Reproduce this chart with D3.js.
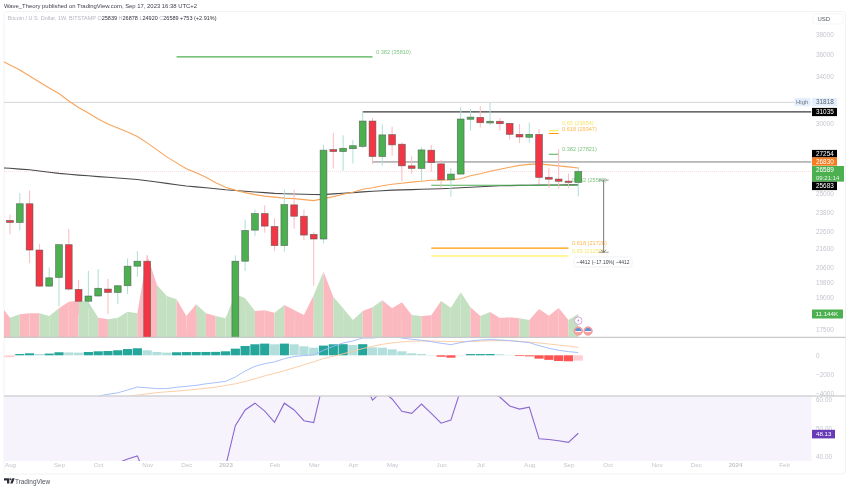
<!DOCTYPE html>
<html>
<head>
<meta charset="utf-8">
<script src="https://cdn.jsdelivr.net/npm/d3@7"></script>
<style>
html,body{margin:0;padding:0;background:#fff;}
svg{display:block;font-family:"Liberation Sans",Arial,sans-serif;filter:blur(0.3px);}
</style>
</head>
<body>
<svg id="chart" width="850" height="489"></svg>
<script>
// weekly candles, first entry is the week cut off by the left edge (2022-07-25)
var firstWeek = "2022-07-25";
var opens = [22580,23410,23290,24450,21680,19740,20190,21985,19575,18980,19240,19590,19420,19760,20790,21060,16300,16280,16430,17100,16960,16780,16830,16620,16950,21060,22830,23835,23050,21930,24380,23670,22580,22310,28150,28000,28210,28380,30310,27640,29260,28540,26980,26800,28100,27120,26020,26410,30450,30600,30160,30290,30130,29280,29060,29280,26190,26070,25930,25839];
var highs = [24200,23775,25140,25300,22040,20720,21985,22910,20060,20540,20630,20110,19780,21215,21620,21400,16900,16750,17320,17620,18370,16950,16950,17000,21380,23470,24085,24350,23550,25360,25360,24085,22720,28490,29410,29210,28860,31110,30550,30050,29870,28680,27660,28320,28490,27400,26820,31450,31270,31520,31818,30550,30150,30080,30200,29690,26820,28170,26430,26878];
var lows = [22400,22580,22810,20950,19700,19700,18730,19500,18330,18650,19200,18365,18845,19340,20225,15600,15500,15500,16000,16600,16300,16400,16300,16500,16900,20540,22480,22680,21630,21580,22910,22260,19760,22060,26780,26640,27140,28250,27100,26990,27700,25920,26420,25920,26570,25450,24900,26390,29560,29790,30000,29560,28890,28620,28650,25730,25470,25420,25470,24920];
var closes = [23400,23290,24450,21680,19740,20170,21985,19590,18980,19240,19630,19420,19760,20790,21060,16300,16280,16430,17100,16960,16780,16830,16620,16950,21060,22810,23835,23070,21930,24395,23670,22540,22310,28100,28000,28240,28430,30310,27640,29240,28490,26980,26800,28120,27210,26020,26410,30470,30620,30180,30290,30100,29280,29080,29280,26180,26060,25920,25839,26589];
var volumes = [15500,9350,11000,11480,11480,10170,13900,17100,17590,17100,9350,8580,9350,12260,11480,39730,25190,19860,18270,10170,15840,11480,10170,9060,20830,18750,12600,12940,11770,15500,13080,10660,20350,31640,19530,13900,8240,12600,14390,17780,13900,16810,10660,10170,10510,17440,14200,21660,14390,10170,12110,9210,9540,9060,8240,13570,10320,14050,8240,11144];
var emaFast = [35515,35060,34600,34070,33545,33025,32560,31930,31395,30950,30470,30080,29770,29460,29120,28640,28120,27615,27190,26775,26497,26190,25825,25525,25330,25165,25035,24940,24875,24810,24780,24715,24650,24780,24905,25065,25195,25390,25490,25625,25725,25790,25860,25925,25990,25990,26025,26090,26290,26430,26600,26740,26880,27015,27085,27120,27050,26980,26910,26830];
var emaSlow = [26850,26810,26750,26705,26620,26540,26455,26395,26340,26290,26235,26190,26140,26090,26045,25960,25870,25780,25690,25605,25545,25490,25425,25360,25310,25255,25205,25165,25120,25095,25080,25060,25040,25035,25085,25130,25170,25215,25255,25295,25330,25350,25365,25385,25405,25425,25450,25490,25525,25555,25590,25620,25630,25645,25655,25665,25670,25675,25680,25683];
var macdHist = [-250,-200,140,210,140,180,320,300,280,350,420,450,530,660,740,530,350,280,320,340,345,350,360,420,700,980,1160,1230,1160,1230,1160,950,800,1020,1160,1170,1090,1170,840,800,630,420,210,140,30,-150,-250,-30,130,132,134,100,40,-80,-110,-350,-480,-600,-630,-560];
var macdLine = [null,null,null,null,null,null,null,null,null,null,-4290,-4105,-3950,-3650,-3340,-3420,-3505,-3505,-3370,-3265,-3160,-3000,-2875,-2740,-2285,-1655,-1160,-875,-705,-350,-135,-20,30,525,950,1295,1505,1820,1820,1925,2000,1820,1685,1580,1440,1265,1125,1335,1505,1610,1655,1610,1550,1440,1335,1020,735,525,390,285];
var signalLine = [null,null,null,null,null,null,null,null,null,null,null,null,null,-4320,-4190,-4055,-3930,-3845,-3770,-3685,-3580,-3475,-3350,-3180,-3000,-2760,-2475,-2160,-1895,-1630,-1315,-1000,-685,-335,-105,160,420,705,950,1160,1295,1420,1475,1505,1505,1475,1440,1440,1455,1495,1525,1550,1525,1475,1390,1295,1190,1075,970,840];
var rsiValues = [null,null,null,null,null,null,null,null,null,null,null,null,37.6,39,40.1,31.5,null,null,null,null,null,null,null,36.3,50.8,56.4,58.8,56,52,58.8,56.4,52.6,51.9,66.7,68,67,66,67.2,59.9,63.1,60.3,55.9,55.2,58.5,55.2,51.7,52.8,63.5,66,67,62.5,61,57.8,56.7,57.4,46.2,45.9,45.5,44.9,48.13];

// axes
var priceTicks = [38000,36000,34000,30000,25000,23800,22600,21600,20600,19800,19000,17500];
var macdTicks = [0,-2000,-4000];
var rsiTicks = [60,50,40];
var timeTicks = ["2022-08-01","2022-09-05","2022-10-03","2022-11-07","2022-12-05","2023-01-02","2023-02-06","2023-03-06","2023-04-03","2023-05-01","2023-06-05","2023-07-03","2023-08-07","2023-09-04","2023-10-02","2023-11-06","2023-12-04","2024-01-01","2024-02-05"];
var timeLabels = ["Aug","Sep","Oct","Nov","Dec","2023","Feb","Mar","Apr","May","Jun","Jul","Aug","Sep","Oct","Nov","Dec","2024","Feb"];

// drawn levels
var fibLabels = ["0.382 (35810)","0.65 (29554)","0.618 (29347)","0.382 (27821)","0.382 (25582)","0.618 (21726)","0.65 (21259)"];
var fibPrices = [35810,29554,29347,27800,25650,21790,21350];
var fibStarts = ["2022-11-28","2023-08-21","2023-08-21","2023-08-21","2023-05-29","2023-05-29","2023-05-29"];
var fibEnds = ["2023-04-17","2023-08-28","2023-08-28","2023-08-28","2023-09-11","2023-09-04","2023-09-04"];
var fibColors = ["#4caf50","#ffeb3b","#ff9800","#4caf50","#4caf50","#ff9800","#ffeb3b"];
var rangePrices = [26000,21555];

var W = 850, H = 489;
var paneL = 4, paneR = 811.5, priceTop = 12, priceBottom = 337, macdTop = 338, macdBottom = 395.5, rsiTop = 396.5, rsiBottom = 461;
var parseDay = d3.utcParse("%Y-%m-%d");

var svg = d3.select("#chart");

var x = d3.scaleUtc().domain([parseDay("2022-08-01"), parseDay("2024-02-05")]).range([10, 784]);
var weeks = opens.map(function(d, i) { return d3.utcWeek.offset(parseDay(firstWeek), i); });
var y = d3.scaleLog().domain([38000, 17500]).range([34, 332.5]);
var yTicks = d3.scaleLog().domain([38000, 17500]).range([34, 329]); // axis labels sit a bit tighter than the marks
var yVol = d3.scaleLinear().domain([0, 11144]).range([337, 314]);
var yMacd = d3.scaleLinear().domain([0, -4000]).range([355.3, 393.3]);
var yRsi = d3.scaleLinear().domain([40, 60]).range([456.2, 399.8]);

function clip(id, x0, y0, x1, y1) {
    svg.append("clipPath").attr("id", id).append("rect")
        .attr("x", x0).attr("y", y0).attr("width", x1 - x0).attr("height", y1 - y0);
}
clip("clipPrice", paneL, priceTop, paneR, priceBottom);
clip("clipMacd", paneL, macdTop, paneR, macdBottom);
clip("clipRsi", paneL, rsiTop, paneR, rsiBottom);

// header text
svg.append("text").attr("x", 4).attr("y", 8).attr("font-size", 5.9).attr("fill", "#3c3f48")
    .text("Wave_Theory published on TradingView.com, Sep 17, 2023 16:38 UTC+2");
var legend = svg.append("text").attr("x", 7.5).attr("y", 20).attr("font-size", 5.5);
legend.append("tspan").attr("fill", "#b4b7c0").text("Bitcoin / U.S. Dollar, 1W, BITSTAMP  O");
legend.append("tspan").attr("fill", "#2f323a").text("25839 ");
legend.append("tspan").attr("fill", "#b4b7c0").text("H");
legend.append("tspan").attr("fill", "#2f323a").text("26878 ");
legend.append("tspan").attr("fill", "#b4b7c0").text("L");
legend.append("tspan").attr("fill", "#2f323a").text("24920 ");
legend.append("tspan").attr("fill", "#b4b7c0").text("C");
legend.append("tspan").attr("fill", "#2f323a").text("26589 +753 (+2.91%)");

// frame and pane backgrounds
svg.append("rect").attr("x", paneL).attr("y", 11.5).attr("width", 841.5).attr("height", 462.5).attr("rx", 3)
    .attr("fill", "none").attr("stroke", "#eff0f3").attr("stroke-width", 0.8);
svg.append("rect").attr("x", paneL).attr("y", rsiTop).attr("width", paneR - paneL).attr("height", rsiBottom - rsiTop).attr("fill", "#f6f3fc");

// price pane
var pricePane = svg.append("g").attr("clip-path", "url(#clipPrice)");

var upVol = "#c3e1c1", downVol = "#fbb8bf";
var volArea = d3.area()
    .x(function(i) { return x(weeks[i]); })
    .y0(yVol(0))
    .y1(function(i) { return yVol(volumes[i]); });
pricePane.selectAll("path.vol").data(d3.range(1, weeks.length)).enter().append("path")
    .attr("class", "vol")
    .attr("d", function(i) { return volArea([i - 1, i]); })
    .attr("fill", function(i) { return closes[i] >= opens[i] ? upVol : downVol; });

// reference lines behind the candles
pricePane.append("line").attr("x1", paneL).attr("x2", paneR).attr("y1", y(31818)).attr("y2", y(31818))
    .attr("stroke", "#c9cace").attr("stroke-width", 0.8);
pricePane.append("line").attr("x1", paneL).attr("x2", paneR).attr("y1", y(26589)).attr("y2", y(26589))
    .attr("stroke", "#f9c9cc").attr("stroke-width", 0.6).attr("stroke-dasharray", "1 1");
pricePane.append("line").attr("x1", x(parseDay("2023-04-10"))).attr("x2", paneR).attr("y1", y(31035)).attr("y2", y(31035))
    .attr("stroke", "#3a3a3a").attr("stroke-width", 1.2);
pricePane.append("line").attr("x1", x(parseDay("2023-04-17"))).attr("x2", paneR).attr("y1", y(27254)).attr("y2", y(27254))
    .attr("stroke", "#6f6f6f").attr("stroke-width", 0.9);

function lineOn(values, yScale) {
    return d3.line()
        .defined(function(i) { return values[i] !== null; })
        .x(function(i) { return x(weeks[i]); })
        .y(function(i) { return yScale(values[i]); })(d3.range(values.length));
}
pricePane.append("path").attr("d", lineOn(emaSlow, y)).attr("fill", "none").attr("stroke", "#4a4a4a").attr("stroke-width", 1.1);
pricePane.append("path").attr("d", lineOn(emaFast, y)).attr("fill", "none").attr("stroke", "#f8a55c").attr("stroke-width", 1.1);

// fib levels
pricePane.selectAll("line.fib").data(fibPrices).enter().append("line")
    .attr("class", "fib")
    .attr("x1", function(d, i) { return x(parseDay(fibStarts[i])); })
    .attr("x2", function(d, i) { return x(parseDay(fibEnds[i])); })
    .attr("y1", function(d) { return y(d); })
    .attr("y2", function(d) { return y(d); })
    .attr("stroke", function(d, i) { return fibColors[i]; })
    .attr("stroke-width", 1.1);

// fib labels, offset above each level, the candles cover them where they meet
var fibLabelX = [376, 562, 562, 562, 572, 572, 572];
var fibLabelUp = [3, 5.5, 2.5, 3, 3, 3, 3];
pricePane.selectAll("text.fib").data(fibLabels).enter().append("text")
    .attr("class", "fib")
    .attr("x", function(d, i) { return fibLabelX[i]; })
    .attr("y", function(d, i) { return y(fibPrices[i]) - fibLabelUp[i]; })
    .attr("font-size", 5.6)
    .attr("fill", function(d, i) { return fibColors[i] === "#ffeb3b" ? "#f6e66e" : fibColors[i] === "#ff9800" ? "#ffb74d" : "#81c784"; })
    .text(function(d) { return d; });

// candles
var upBody = "#4caf50", downBody = "#f23645", upWick = "#aedfd6", downWick = "#ffb9c0";
var candles = pricePane.selectAll("g.candle").data(d3.range(weeks.length)).enter().append("g").attr("class", "candle");
candles.append("line")
    .attr("x1", function(i) { return x(weeks[i]); })
    .attr("x2", function(i) { return x(weeks[i]); })
    .attr("y1", function(i) { return y(highs[i]); })
    .attr("y2", function(i) { return y(lows[i]); })
    .attr("stroke", function(i) { return closes[i] >= opens[i] ? upWick : downWick; })
    .attr("stroke-width", 1);
candles.append("rect")
    .attr("x", function(i) { return x(weeks[i]) - 3.4; })
    .attr("width", 6.8)
    .attr("y", function(i) { return y(Math.max(opens[i], closes[i])); })
    .attr("height", function(i) { return Math.max(1, y(Math.min(opens[i], closes[i])) - y(Math.max(opens[i], closes[i]))); })
    .attr("fill", function(i) { return closes[i] >= opens[i] ? upBody : downBody; })
    .attr("stroke", "#4f5a52")
    .attr("stroke-opacity", 0.75)
    .attr("stroke-width", 0.7);

// price range tool
var rangeX = x(parseDay("2023-10-02")) - 4;
pricePane.append("line").attr("x1", rangeX).attr("x2", rangeX).attr("y1", y(rangePrices[0])).attr("y2", y(rangePrices[1]))
    .attr("stroke", "#6a6a6a").attr("stroke-width", 0.9);
rangePrices.forEach(function(p) {
    pricePane.append("line").attr("x1", rangeX - 5).attr("x2", rangeX + 5).attr("y1", y(p)).attr("y2", y(p))
        .attr("stroke", "#777").attr("stroke-width", 0.7);
});
pricePane.append("path").attr("d", "M" + (rangeX - 2.5) + "," + (y(rangePrices[1]) - 2.5) + "L" + rangeX + "," + y(rangePrices[1]) + "L" + (rangeX + 2.5) + "," + (y(rangePrices[1]) - 2.5))
    .attr("fill", "none").attr("stroke", "#555").attr("stroke-width", 0.7);
var tip = pricePane.append("g").attr("transform", "translate(574,257)");
tip.append("rect").attr("width", 58).attr("height", 10).attr("rx", 2).attr("fill", "#fff").attr("stroke", "#eceef2").attr("stroke-width", 0.8);
tip.append("text").attr("x", 29).attr("y", 7).attr("text-anchor", "middle").attr("font-size", 4.9).attr("fill", "#3f424b")
    .text("\u22124412 (\u221217.10%) \u22124412");

// event icons on the last candle
var lastX = x(weeks[weeks.length - 1]);
svg.append("circle").attr("cx", lastX).attr("cy", 320.7).attr("r", 3.8).attr("fill", "#fff").attr("stroke", "#ce93d8").attr("stroke-width", 0.8);
svg.append("path").attr("d", "M" + (lastX + 0.8) + ",318.4L" + (lastX - 1) + ",321L" + lastX + ",321L" + (lastX - 0.8) + ",323L" + (lastX + 1) + ",320.4L" + lastX + ",320.4Z").attr("fill", "#ab6ec7");
[lastX, lastX + 9.8].forEach(function(cx) {
    svg.append("circle").attr("cx", cx).attr("cy", 331).attr("r", 4.2).attr("fill", "#f6a5a5").attr("stroke", "#f28b8b").attr("stroke-width", 0.8);
    svg.append("path").attr("d", "M" + (cx - 3) + ",331A3,3 0 0,1 " + (cx + 3) + ",331Z").attr("fill", "#5c8fd6");
    svg.append("rect").attr("x", cx - 3).attr("y", 331).attr("width", 6).attr("height", 0.9).attr("fill", "#fff");
});

// macd pane
var macdPane = svg.append("g").attr("clip-path", "url(#clipMacd)");
function histColor(i) {
    var v = macdHist[i], prev = i > 0 ? macdHist[i - 1] : v;
    if (v >= 0) return v >= prev ? "#26a69a" : "#b2dfdb";
    return v < prev ? "#ff5252" : "#ffcdd2";
}
macdPane.selectAll("rect.hist").data(d3.range(weeks.length)).enter().append("rect")
    .attr("class", "hist")
    .attr("x", function(i) { return x(weeks[i]) - 4.6; })
    .attr("width", 9.2)
    .attr("y", function(i) { return Math.min(yMacd(macdHist[i]), yMacd(0)); })
    .attr("height", function(i) { return Math.abs(yMacd(macdHist[i]) - yMacd(0)); })
    .attr("fill", histColor);
macdPane.append("path").attr("d", lineOn(signalLine, yMacd)).attr("fill", "none").attr("stroke", "#fbc89e").attr("stroke-width", 0.9);
macdPane.append("path").attr("d", lineOn(macdLine, yMacd)).attr("fill", "none").attr("stroke", "#9db9fb").attr("stroke-width", 0.9);

// rsi pane
var rsiPane = svg.append("g").attr("clip-path", "url(#clipRsi)");
rsiPane.append("path").attr("d", lineOn(rsiValues, yRsi)).attr("fill", "none").attr("stroke", "#8a68cf").attr("stroke-width", 1.1);

// pane separators
[337.3, 396].forEach(function(sy) {
    svg.append("line").attr("x1", paneL).attr("x2", 845.5).attr("y1", sy).attr("y2", sy).attr("stroke", "#bcbdc2").attr("stroke-width", 1);
});

// axes
function styleAxis(g, size) {
    g.select(".domain").remove();
    g.selectAll(".tick line").remove();
    g.selectAll("text").attr("font-size", size).attr("fill", "#c4c6cd").attr("font-family", "inherit");
}
var axisX = 816;
svg.append("g").attr("transform", "translate(" + axisX + ",0)")
    .call(d3.axisRight(yTicks).tickValues(priceTicks).tickSize(0).tickPadding(0).tickFormat(d3.format("d")))
    .call(styleAxis, 6.4);
svg.append("g").attr("transform", "translate(" + axisX + ",0)")
    .call(d3.axisRight(yMacd).tickValues(macdTicks).tickSize(0).tickPadding(0).tickFormat(function(d) { return d < 0 ? "\u2212" + Math.abs(d) : d; }))
    .call(styleAxis, 6.4);
svg.append("g").attr("transform", "translate(" + axisX + ",0)")
    .call(d3.axisRight(yRsi).tickValues(rsiTicks).tickSize(0).tickPadding(0).tickFormat(d3.format(".2f")))
    .call(styleAxis, 6.4);
var timeAxis = svg.append("g").attr("transform", "translate(0,463)")
    .call(d3.axisBottom(x).tickValues(timeTicks.map(parseDay)).tickSize(0).tickPadding(0)
        .tickFormat(function(d, i) { return timeLabels[i]; }))
    .call(styleAxis, 6.2);
timeAxis.selectAll("text")
    .attr("font-weight", function(d, i) { return /^20/.test(timeLabels[i]) ? "bold" : "normal"; });

// price chips on the right
function chip(cy, h, w, fill, color, text) {
    var g = svg.append("g");
    g.append("rect").attr("x", 812).attr("y", cy - h / 2).attr("width", w).attr("height", h).attr("fill", fill);
    g.append("text").attr("x", 812 + 4).attr("y", cy + 2.2).attr("font-size", 6.4).attr("fill", color).text(text);
}
svg.append("rect").attr("x", 813).attr("y", 14).attr("width", 30).attr("height", 10).attr("rx", 2).attr("fill", "#fff").attr("stroke", "#eff0f3").attr("stroke-width", 0.7);
svg.append("text").attr("x", 817.5).attr("y", 21.2).attr("font-size", 6).attr("fill", "#555862").text("USD");
svg.append("rect").attr("x", 794.5).attr("y", 98).attr("width", 16).attr("height", 8.2).attr("fill", "#e3effd");
svg.append("text").attr("x", 796).attr("y", 104.3).attr("font-size", 6).attr("fill", "#6f7480").text("High");
chip(102.2, 8.2, 25, "#e3effd", "#5d6470", "31818");
chip(112, 8.2, 25, "#000", "#fff", "31035");
chip(153.7, 7.6, 25, "#000", "#fff", "27254");
chip(161.5, 8.4, 25, "#f57c1f", "#fff", "26830");
svg.append("rect").attr("x", 812).attr("y", 166).attr("width", 32).attr("height", 15.6).attr("fill", "#4caf50");
svg.append("text").attr("x", 816).attr("y", 172.4).attr("font-size", 6.4).attr("fill", "#fff").text("26589");
svg.append("text").attr("x", 816).attr("y", 179.6).attr("font-size", 6).attr("fill", "#e8f5e9").text("09:21:14");
chip(185.9, 8.4, 25, "#000", "#fff", "25683");
svg.append("rect").attr("x", 812).attr("y", 309.5).attr("width", 31).attr("height", 9).attr("rx", 0.6).attr("fill", "#4caf50");
svg.append("text").attr("x", 815.5).attr("y", 316.2).attr("font-size", 6.2).attr("fill", "#fff").text("11.144K");
svg.append("rect").attr("x", 812).attr("y", 429.8).attr("width", 23).attr("height", 8.6).attr("fill", "#673ab7");
svg.append("text").attr("x", 816).attr("y", 436.2).attr("font-size", 6.2).attr("fill", "#fff").text("48.13");

// footer logo
svg.append("path").attr("d", "M4,478.3H9.3V483.6H7V480.4H4Z").attr("fill", "#2a2e39");
svg.append("circle").attr("cx", 10.5).attr("cy", 479.3).attr("r", 1).attr("fill", "#2a2e39");
svg.append("path").attr("d", "M12.3,478.3H14.7L12.6,483.6H10.2Z").attr("fill", "#2a2e39");
svg.append("text").attr("x", 15).attr("y", 484).attr("font-size", 6.4).attr("fill", "#50535e").text("TradingView");
</script>
</body>
</html>
